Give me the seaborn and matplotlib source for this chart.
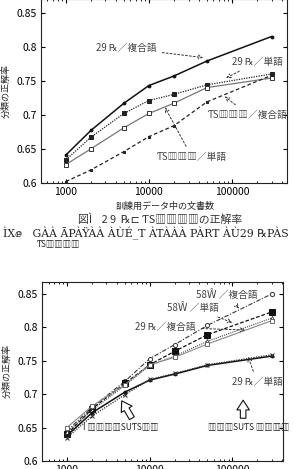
import matplotlib
matplotlib.use("Agg")
import matplotlib.pyplot as plt
import seaborn as sns
from matplotlib.ticker import LogLocator, NullFormatter, FixedLocator

# ---- data -------------------------------------------------------
docs = [1000, 2000, 5000, 10000, 20000, 50000, 300000]

# top chart
top_29_comp = [0.641, 0.677, 0.717, 0.743, 0.757, 0.779, 0.815]
top_29_word = [0.634, 0.667, 0.702, 0.721, 0.730, 0.744, 0.760]
top_ts_word = [0.627, 0.650, 0.681, 0.702, 0.717, 0.740, 0.754]
top_ts_comp = [0.602, 0.619, 0.646, 0.668, 0.684, 0.719, 0.758]

# bottom chart
bot_58_comp = [0.645, 0.680, 0.719, 0.753, 0.774, 0.803, 0.850]
bot_58_word = [0.640, 0.678, 0.716, 0.744, 0.764, 0.789, 0.823]
bot_29_comp = [0.643, 0.676, 0.713, 0.743, 0.757, 0.779, 0.814]
bot_ts_comp = [0.650, 0.682, 0.714, 0.744, 0.755, 0.775, 0.810]
bot_29_word = [0.638, 0.672, 0.703, 0.721, 0.730, 0.743, 0.757]
bot_ts_word = [0.635, 0.667, 0.699, 0.722, 0.731, 0.744, 0.759]

yticks = [0.6, 0.65, 0.7, 0.75, 0.8, 0.85]
ytick_labels = ["0.6", "0.65", "0.7", "0.75", "0.8", "0.85"]
xticks = [1000, 10000, 100000]
xtick_labels = ["1000", "10000", "100000"]

ylabel = "分類の正解率"
xlabel = "訓練用データ中の文書数"

sns.set_style("ticks")
plt.rcParams['font.family'] = ['Noto Sans CJK JP', 'DejaVu Sans']

fig = plt.figure(figsize=(2.94, 4.69), dpi=100)
ax1 = fig.add_axes([0.139, 0.610, 0.837, 0.392])
ax2 = fig.add_axes([0.143, 0.017, 0.820, 0.382])

TXT = '#444444'


def style_axes(ax, xmax, ytop):
    ax.set_xscale('log')
    ax.set_xlim(500, xmax)
    ax.set_ylim(0.6, ytop)
    ax.yaxis.set_major_locator(FixedLocator(yticks))
    ax.set_yticklabels(ytick_labels)
    ax.xaxis.set_major_locator(FixedLocator(xticks))
    ax.set_xticklabels(xtick_labels)
    ax.xaxis.set_minor_locator(LogLocator(base=10, subs=range(2, 10)))
    ax.xaxis.set_minor_formatter(NullFormatter())
    ax.tick_params(which='both', direction='in', top=True, right=True,
                   labelsize=7.5, colors='black', pad=3)
    ax.tick_params(which='major', length=3)
    ax.tick_params(which='minor', length=1.5)
    for s in ax.spines.values():
        s.set_linewidth(0.8)
        s.set_color('#222222')
    ax.set_ylabel(ylabel, fontsize=6.5, labelpad=4)
    ax.set_xlabel('')


def note(ax, text, xy, xytext, ha='center'):
    ax.annotate(text, xy=xy, xytext=xytext, fontsize=7, color=TXT,
                ha=ha, va='center',
                arrowprops=dict(arrowstyle='->', linestyle=(0, (2, 2)),
                                color='#333333', lw=0.7, shrinkA=2, shrinkB=0))


# ---- top chart --------------------------------------------------
sns.lineplot(x=docs, y=top_29_comp, ax=ax1, color='#111111', lw=1.1,
             marker='o', markersize=2, mec='#111111')
sns.lineplot(x=docs, y=top_29_word, ax=ax1, color='#222222', lw=0.9,
             linestyle=(0, (1, 1)), marker='s', markersize=3, mec='#222222')
sns.lineplot(x=docs, y=top_ts_word, ax=ax1, color='#777777', lw=0.9,
             marker='s', markersize=3.5, mfc='white', mec='#333333', mew=0.7)
sns.lineplot(x=docs, y=top_ts_comp, ax=ax1, color='#222222', lw=0.9,
             linestyle=(0, (3, 2)), marker='s', markersize=2, mec='#222222')
style_axes(ax1, 460000, 0.870)

note(ax1, "29 ℞／複合語", xy=(45000, 0.784), xytext=(5300, 0.798))
note(ax1, "29 ℞／単語", xy=(85000, 0.754), xytext=(205000, 0.778))
note(ax1, "ƬS▥▥▥／複合語", xy=(82000, 0.727), xytext=(156000, 0.700))
note(ax1, "ƬS▥▥▥／単語", xy=(15600, 0.711), xytext=(33000, 0.638))

# x label and caption
fig.text(0.56, 1 - 206 / 469, xlabel, fontsize=6.5, ha='center', va='center')
fig.text(0.545, 1 - 219 / 469, "図Ì    2 9  ℞⊏ ƬS▥▥▥▥の正解率", fontsize=7.8,
         ha='center', va='center', color='#333333')
fig.text(0.01, 1 - 233 / 469,
         "ÌⅩⅇ   GÀÀ ĀPÀŸÀÀ ÀÙÉ_T ÀTÀÀÀ PÀRT ÀÙ29 ℞PÀS",
         fontsize=7.8, ha='left', va='center', color='#222222',
         family=['DejaVu Serif', 'DejaVu Sans'])
fig.text(0.125, 1 - 244 / 469, "ƬS▥▥▥▥", fontsize=6, ha='left',
         va='center', color='#222222')

# ---- bottom chart -----------------------------------------------
sns.lineplot(x=docs, y=bot_58_comp, ax=ax2, color='#333333', lw=0.8,
             linestyle=(0, (4, 1.5, 1, 1.5)), marker='o', markersize=3,
             mfc='white', mec='#333333', mew=0.7)
sns.lineplot(x=docs, y=bot_58_word, ax=ax2, color='#111111', lw=0.9,
             linestyle=(0, (3, 1.5)), marker='s', markersize=5, mec='#111111')
sns.lineplot(x=docs, y=bot_29_comp, ax=ax2, color='#444444', lw=0.8,
             linestyle=(0, (1, 1)), marker='^', markersize=3,
             mfc='white', mec='#333333', mew=0.6)
sns.lineplot(x=docs, y=bot_ts_comp, ax=ax2, color='#888888', lw=0.8,
             marker='s', markersize=3.5, mfc='white', mec='#555555', mew=0.6)
sns.lineplot(x=docs, y=bot_29_word, ax=ax2, color='#111111', lw=1.1,
             marker='o', markersize=2, mec='#111111')
sns.lineplot(x=docs, y=bot_ts_word, ax=ax2, color='#333333', lw=0.9,
             linestyle=(0, (1, 1)), marker='x', markersize=2.5, mec='#333333')
style_axes(ax2, 411000, 0.868)

note(ax2, "58Ŵ ／複合語", xy=(121000, 0.828), xytext=(85000, 0.849))
note(ax2, "58Ŵ ／単語", xy=(100000, 0.807), xytext=(33000, 0.830))
note(ax2, "29 ℞／複合語", xy=(143000, 0.796), xytext=(15600, 0.800))
note(ax2, "29 ℞／単語", xy=(155000, 0.756), xytext=(200000, 0.718))

hollow = dict(arrowstyle='simple,head_width=0.9,head_length=0.7,tail_width=0.4',
              fc='white', ec='#111111', lw=0.8, shrinkA=0, shrinkB=0)
ax2.annotate('', xy=(4600, 0.690), xytext=(6100, 0.664), arrowprops=hollow)
ax2.annotate('', xy=(135000, 0.691), xytext=(135000, 0.664), arrowprops=hollow)
ax2.text(4470, 0.652, "I ▥▥▥▥SUƬS▥▥", fontsize=6, ha='center', va='center',
         color='#222222')
ax2.text(156000, 0.652, "▥▥▥SUƬS ▥▥▥▥", fontsize=6, ha='center', va='center',
         color='#222222')

fig.savefig("out.png", dpi=100)
